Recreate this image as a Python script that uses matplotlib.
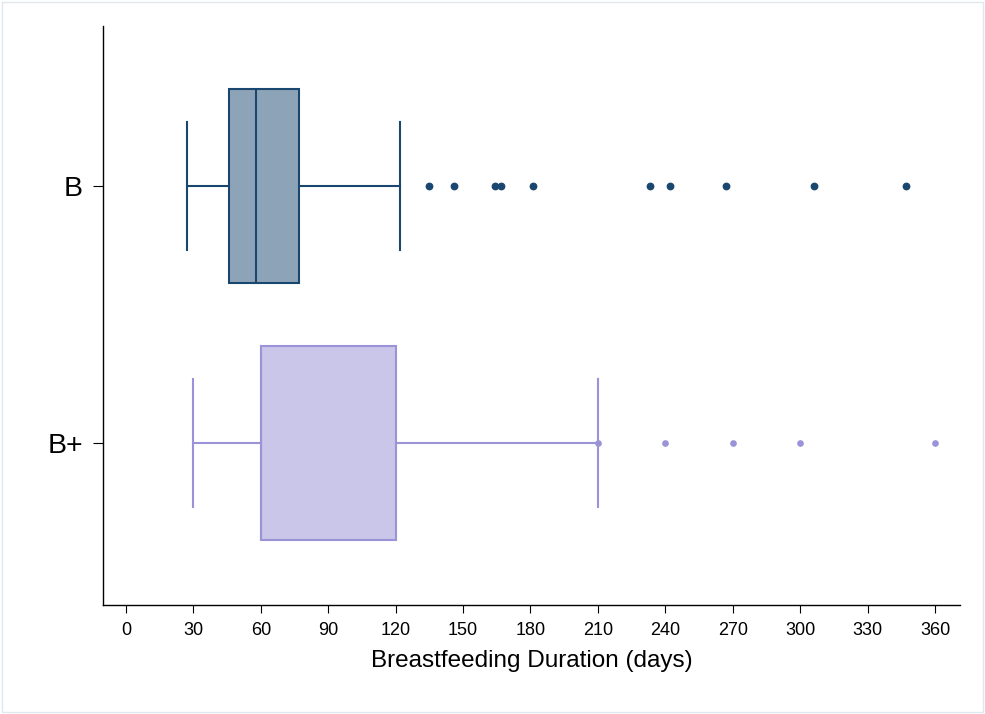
import matplotlib
matplotlib.use("Agg")
import matplotlib.pyplot as plt
from matplotlib.patches import Rectangle

plt.rcParams['font.family'] = ['Liberation Sans', 'DejaVu Sans']

# data (days)
groups = ["B+", "B"]
q1 = [60, 46]
med = [60, 58]
q3 = [120, 77]
wlo = [30, 27]
whi = [210, 122]
out_b = [135, 146, 164, 167, 181, 233, 242, 267, 306, 347]
out_bplus = [210, 240, 270, 300, 360]
fliers = [out_bplus, out_b]

edge_cols = ["#9a93d8", "#1a476f"]
fill_cols = ["#c9c6ea", "#8da3b8"]
dot_size = [3.8, 4.6]

xticks = list(range(0, 361, 30))

fig = plt.figure(figsize=(9.85, 7.14), dpi=100)
ax = fig.add_axes([103/985, 1-605/714, (960-103)/985, (605-26)/714])

for i in range(len(groups)):
    st = dict(q1=q1[i], med=med[i], q3=q3[i], whislo=wlo[i], whishi=whi[i],
              fliers=fliers[i], label=groups[i])
    c = edge_cols[i]
    ax.bxp([st], positions=[i], widths=0.755, capwidths=0.5, vert=False,
           patch_artist=True, showfliers=True,
           boxprops=dict(facecolor=fill_cols[i], edgecolor=c, linewidth=1.5),
           medianprops=dict(color=c, linewidth=1.5),
           whiskerprops=dict(color=c, linewidth=1.5),
           capprops=dict(color=c, linewidth=1.5),
           flierprops=dict(marker="o", markersize=dot_size[i], markerfacecolor=c,
                           markeredgecolor=c, linestyle="none"))

ax.set_xlim(-10.2, 371.1)
ax.set_ylim(-0.630, 1.623)
ax.set_xticks(xticks)
ax.set_xticklabels([str(t) for t in xticks])
ax.set_yticks([0, 1])
ax.set_yticklabels(groups)

for s in ["top", "right"]:
    ax.spines[s].set_visible(False)
for s in ["left", "bottom"]:
    ax.spines[s].set_linewidth(1.0)
    ax.spines[s].set_color("black")

ax.tick_params(axis="x", direction="out", length=6, width=0.8, pad=6, labelsize=13)
ax.tick_params(axis="y", direction="out", length=7, width=0.8, pad=7.5, labelsize=20.5)
ax.set_xlabel("Breastfeeding Duration (days)", fontsize=17.5, labelpad=8)

fig.patches.append(Rectangle((2/985, 2/714), 981/985, 710/714, transform=fig.transFigure,
                             fill=False, edgecolor="#dfe8ec", linewidth=1.0))

fig.savefig("out.png", dpi=100)
